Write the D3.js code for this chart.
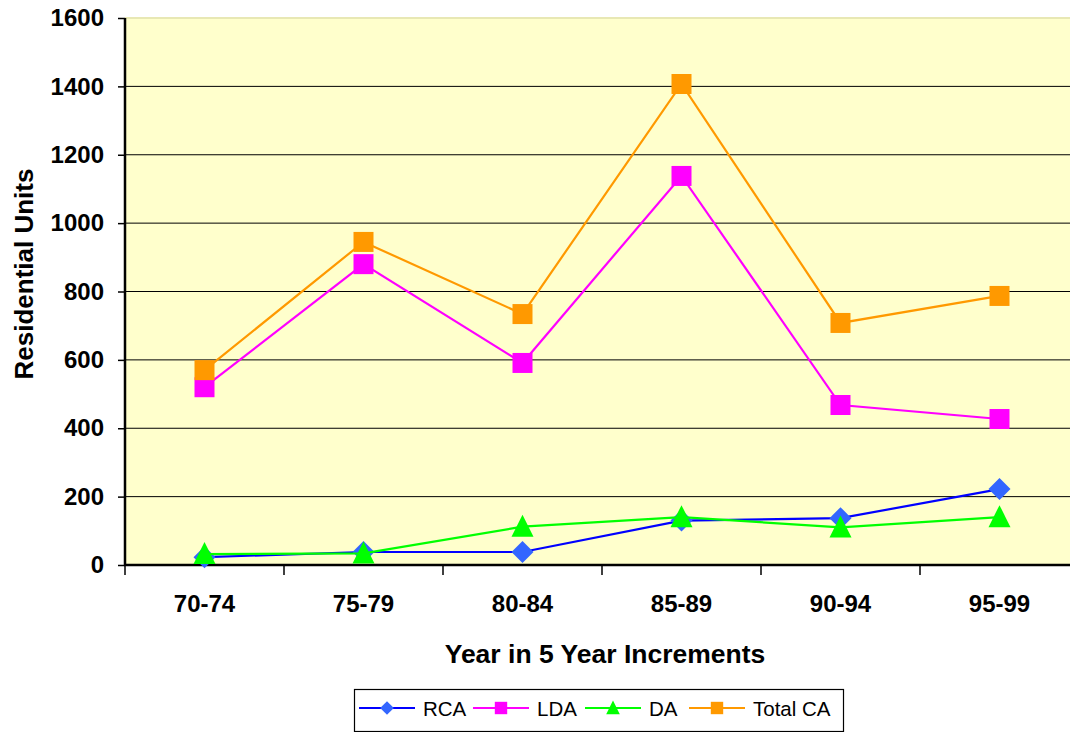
<!DOCTYPE html>
<html>
<head>
<meta charset="utf-8">
<script src="https://cdn.jsdelivr.net/npm/d3@7"></script>
<style>
  html, body { margin: 0; padding: 0; background: #ffffff; }
  svg { display: block; font-family: "Liberation Sans", Arial, sans-serif; }
</style>
</head>
<body>
<svg id="chart" width="1070" height="732"></svg>
<script>
// Residential units by 5-year period
const periods = ["70-74", "75-79", "80-84", "85-89", "90-94", "95-99"];
const rca     = [23, 38, 38, 130, 137, 222];
const lda     = [520, 880, 591, 1138, 468, 427];
const da      = [32, 34, 112, 140, 110, 140];
const totalCA = [570, 945, 734, 1407, 708, 787];
const yTicks  = [0, 200, 400, 600, 800, 1000, 1200, 1400, 1600];

const seriesList = [
  { name: "RCA",      values: rca,     line: "#0000ff", fill: "#3366ff", shape: "diamond" },
  { name: "LDA",      values: lda,     line: "#ff00ff", fill: "#ff00ff", shape: "square" },
  { name: "DA",       values: da,      line: "#00ff00", fill: "#00ff00", shape: "triangle" },
  { name: "Total CA", values: totalCA, line: "#ff9900", fill: "#ff9900", shape: "square" }
];

const svg = d3.select("#chart");
const plot = { left: 125, top: 18, right: 1079, bottom: 565 };

const x = d3.scaleBand().domain(periods).range([plot.left, plot.right]);
const y = d3.scaleLinear().domain([0, 1600]).range([plot.bottom, plot.top]);

// plot background
svg.append("rect")
  .attr("x", plot.left).attr("y", plot.top)
  .attr("width", plot.right - plot.left).attr("height", plot.bottom - plot.top)
  .attr("fill", "#ffffcc");

// horizontal gridlines
svg.append("g").selectAll("line")
  .data(yTicks.filter(d => d > 0))
  .join("line")
  .attr("x1", plot.left).attr("x2", plot.right)
  .attr("y1", d => y(d)).attr("y2", d => y(d))
  .attr("stroke", d => d === 1600 ? "#e8e8b4" : "#000000")
  .attr("stroke-width", d => d === 1600 ? 2 : 1);

// y axis
const yAxis = d3.axisLeft(y).tickValues(yTicks).tickSize(7).tickPadding(14).tickFormat(d3.format("d"));
const gy = svg.append("g").attr("transform", `translate(${plot.left},0)`).call(yAxis);
gy.select(".domain").remove();
gy.selectAll(".tick line").attr("stroke", "#000").attr("stroke-width", 1.5);
gy.selectAll(".tick text")
  .attr("font-size", 24).attr("font-weight", "bold").attr("fill", "#000")
  .attr("font-family", "'Liberation Sans', Arial, sans-serif");
svg.append("line")
  .attr("x1", plot.left).attr("x2", plot.left)
  .attr("y1", plot.top).attr("y2", plot.bottom + 1)
  .attr("stroke", "#000").attr("stroke-width", 2.5);

// x axis: tick marks at category boundaries, labels centred in each band
const xAxis = d3.axisBottom(x).tickSize(0).tickPadding(30);
const gx = svg.append("g").attr("transform", `translate(0,${plot.bottom})`).call(xAxis);
gx.select(".domain").remove();
gx.selectAll(".tick text")
  .attr("font-size", 24).attr("font-weight", "bold").attr("fill", "#000")
  .attr("font-family", "'Liberation Sans', Arial, sans-serif");
const bounds = periods.map(p => x(p)).concat([x(periods[periods.length - 1]) + x.bandwidth()]);
svg.append("g").selectAll("line")
  .data(bounds)
  .join("line")
  .attr("x1", d => d).attr("x2", d => d)
  .attr("y1", plot.bottom).attr("y2", plot.bottom + 10)
  .attr("stroke", "#000").attr("stroke-width", 1.5);
svg.append("line")
  .attr("x1", plot.left - 1).attr("x2", plot.right)
  .attr("y1", plot.bottom).attr("y2", plot.bottom)
  .attr("stroke", "#000").attr("stroke-width", 2.5);

// axis titles
svg.append("text")
  .attr("x", 605).attr("y", 663)
  .attr("text-anchor", "middle")
  .attr("font-size", 26.5).attr("font-weight", "bold")
  .text("Year in 5 Year Increments");
svg.append("text")
  .attr("transform", `translate(33,274) rotate(-90)`)
  .attr("text-anchor", "middle")
  .attr("font-size", 26).attr("font-weight", "bold")
  .text("Residential Units");

// marker path generator
function markerPath(shape) {
  if (shape === "diamond") return "M0,-11L11,0L0,11L-11,0Z";
  if (shape === "square") return "M-10,-10H10V10H-10Z";
  return "M0,-12L11,10H-11Z";
}

const cx = d => x(d) + x.bandwidth() / 2;
const lineGen = d3.line().x(d => cx(d.p)).y(d => y(d.v));

seriesList.forEach(s => {
  const pts = periods.map((p, i) => ({ p, v: s.values[i] }));
  const g = svg.append("g");
  g.append("path")
    .attr("d", lineGen(pts))
    .attr("fill", "none")
    .attr("stroke", s.line)
    .attr("stroke-width", 2.2);
  g.selectAll("path.mk")
    .data(pts)
    .join("path")
    .attr("class", "mk")
    .attr("transform", d => `translate(${cx(d.p)},${y(d.v)})`)
    .attr("d", markerPath(s.shape))
    .attr("fill", s.fill);
});

// legend
const legend = svg.append("g");
legend.append("rect")
  .attr("x", 354.5).attr("y", 689.5).attr("width", 489).attr("height", 42)
  .attr("fill", "#fff").attr("stroke", "#000").attr("stroke-width", 1.2);
const legendX = [359, 473, 585, 689];
seriesList.forEach((s, i) => {
  const lx = legendX[i];
  const ly = 708;
  legend.append("line")
    .attr("x1", lx).attr("x2", lx + 56)
    .attr("y1", ly).attr("y2", ly)
    .attr("stroke", s.line).attr("stroke-width", 2);
  legend.append("path")
    .attr("transform", `translate(${lx + 28},${ly}) scale(0.62)`)
    .attr("d", markerPath(s.shape))
    .attr("fill", s.fill);
  legend.append("text")
    .attr("x", lx + 64).attr("y", 716)
    .attr("font-size", 20.5)
    .attr("fill", "#000")
    .text(s.name);
});
</script>
</body>
</html>
